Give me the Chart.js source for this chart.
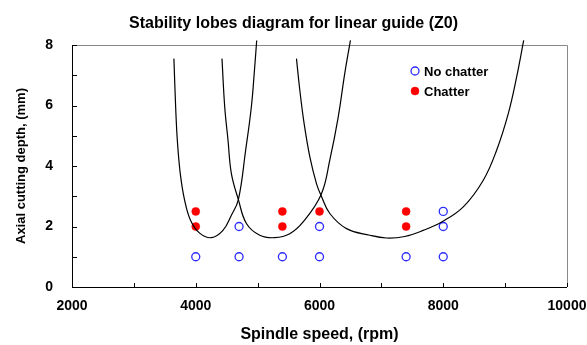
<!DOCTYPE html>
<html>
<head>
<meta charset="utf-8">
<script src="https://cdn.jsdelivr.net/npm/chart.js@4"></script>
<style>
  html, body { margin: 0; padding: 0; background: #fff; }
  #wrap { width: 587px; height: 345px; }
</style>
</head>
<body>
<div id="wrap"><canvas id="lobeChart"></canvas></div>
<script>
// lobes (rpm, mm)
const lobe1 = [
  {x: 3647, y: 7.55}, {x: 3675, y: 5.96}, {x: 3702, y: 4.86}, {x: 3750, y: 3.75},
  {x: 3820, y: 2.87}, {x: 3917, y: 2.2}, {x: 4063, y: 1.78}, {x: 4252, y: 1.63},
  {x: 4440, y: 1.87}, {x: 4576, y: 2.37}, {x: 4689, y: 2.89}, {x: 4807, y: 4.53},
  {x: 4899, y: 5.96}, {x: 4950, y: 7.2}, {x: 4985, y: 8.15}
];
const lobe2 = [
  {x: 4424, y: 7.55}, {x: 4468, y: 5.96}, {x: 4521, y: 4.86}, {x: 4576, y: 3.75},
  {x: 4689, y: 2.89}, {x: 4819, y: 2.1}, {x: 5034, y: 1.71}, {x: 5277, y: 1.63},
  {x: 5519, y: 1.76}, {x: 5735, y: 2.15}, {x: 6027, y: 3.06}, {x: 6167, y: 4.2},
  {x: 6301, y: 5.6}, {x: 6409, y: 7.07}, {x: 6500, y: 8.15}
];
const lobe3 = [
  {x: 5628, y: 7.55}, {x: 5681, y: 6.52}, {x: 5751, y: 5.41}, {x: 5843, y: 4.31},
  {x: 5951, y: 3.42}, {x: 6024, y: 3.03}, {x: 6167, y: 2.43}, {x: 6437, y: 1.93},
  {x: 6814, y: 1.71}, {x: 7084, y: 1.62}, {x: 7377, y: 1.67}, {x: 7677, y: 1.87},
  {x: 7974, y: 2.15}, {x: 8324, y: 2.65}, {x: 8647, y: 3.53}, {x: 8864, y: 4.53},
  {x: 9052, y: 5.74}, {x: 9188, y: 6.96}, {x: 9300, y: 8.15}
];

// cutting tests
const noChatterSpeed = [4000, 4700, 4700, 5400, 6000, 6000, 7400, 8000, 8000, 8000];
const noChatterDepth = [1, 1, 2, 1, 1, 2, 1, 1, 2, 2.5];
const chatterSpeed = [4000, 4000, 5400, 5400, 6000, 7400, 7400];
const chatterDepth = [2, 2.5, 2, 2.5, 2.5, 2, 2.5];

const xTicks = [2000, 4000, 6000, 8000, 10000];
const yTicks = [0, 2, 4, 6, 8];

const FONT = 'Arial, "Liberation Sans", sans-serif';
const toPts = (xs, ys) => xs.map((x, i) => ({x: x, y: ys[i]}));

const lobeStyle = {
  showLine: true,
  borderColor: '#000',
  borderWidth: 1.2,
  pointRadius: 0,
  tension: 0.4,
  clip: false
};

// inward tick marks + frame, like the original sheet
const frame = {
  id: 'frame',
  beforeDatasetsDraw(chart) {
    const {ctx, chartArea: a, scales: {x, y}} = chart;
    ctx.save();
    ctx.lineWidth = 1;
    ctx.strokeStyle = '#888';
    ctx.beginPath();
    ctx.moveTo(a.left, a.top + 0.5); ctx.lineTo(a.right + 0.5, a.top + 0.5);
    ctx.lineTo(a.right + 0.5, a.bottom);
    ctx.stroke();
    ctx.strokeStyle = '#000';
    ctx.beginPath();
    ctx.moveTo(a.left + 0.5, a.top); ctx.lineTo(a.left + 0.5, a.bottom + 0.5);
    ctx.lineTo(a.right, a.bottom + 0.5);
    for (let v = 2000; v <= 10000; v += 1000) {
      const px = Math.round(x.getPixelForValue(v)) + 0.5;
      ctx.moveTo(px, a.bottom); ctx.lineTo(px, a.bottom - 4);
    }
    for (let v = 0; v <= 8; v += 1) {
      const py = Math.round(y.getPixelForValue(v)) + 0.5;
      ctx.moveTo(a.left, py); ctx.lineTo(a.left + 5, py);
    }
    ctx.stroke();
    ctx.restore();
  },
  afterDraw(chart) {
    // legend inside the plot
    const {ctx} = chart;
    const items = [chart.data.datasets[3], chart.data.datasets[4]];
    ctx.save();
    ctx.font = 'bold 13px ' + FONT;
    ctx.textBaseline = 'middle';
    items.forEach((ds, i) => {
      const cx = 415, cy = 71 + i * 20;
      ctx.beginPath();
      ctx.arc(cx, cy, ds.pointRadius, 0, Math.PI * 2);
      ctx.fillStyle = ds.pointBackgroundColor;
      ctx.fill();
      ctx.lineWidth = ds.pointBorderWidth;
      ctx.strokeStyle = ds.pointBorderColor;
      ctx.stroke();
      ctx.fillStyle = '#000';
      ctx.fillText(ds.label, cx + 9, cy + 1);
    });
    ctx.restore();
  }
};

new Chart(document.getElementById('lobeChart'), {
  type: 'scatter',
  data: {
    datasets: [
      Object.assign({label: 'lobe 1', data: lobe1}, lobeStyle),
      Object.assign({label: 'lobe 2', data: lobe2}, lobeStyle),
      Object.assign({label: 'lobe 3', data: lobe3}, lobeStyle),
      {
        label: 'No chatter',
        data: toPts(noChatterSpeed, noChatterDepth),
        pointRadius: 4,
        pointBackgroundColor: '#fff',
        pointBorderColor: '#2b2bff',
        pointBorderWidth: 1.3
      },
      {
        label: 'Chatter',
        data: toPts(chatterSpeed, chatterDepth),
        pointRadius: 4,
        pointBackgroundColor: '#ff0000',
        pointBorderColor: '#ff0000',
        pointBorderWidth: 0.5
      }
    ]
  },
  options: {
    responsive: true,
    maintainAspectRatio: false,
    animation: false,
    layout: { padding: { left: 0, right: 0, top: 0, bottom: 0 } },
    plugins: {
      legend: { display: false },
      tooltip: { enabled: false },
      title: {
        display: true,
        text: 'Stability lobes diagram for linear guide (Z0)',
        color: '#000',
        font: { family: FONT, size: 16, weight: 'bold' },
        padding: { top: 14, bottom: 11.8 }
      }
    },
    scales: {
      x: {
        type: 'linear',
        min: 2000, max: 10000,
        afterFit: s => { s.height = 58; s.paddingRight = 20; s.paddingLeft = 0; },
        afterBuildTicks: s => { s.ticks = xTicks.map(v => ({value: v})); },
        grid: { display: false, drawTicks: false },
        border: { display: false },
        ticks: {
          color: '#000', padding: 11, maxRotation: 0,
          callback: v => String(v),
          font: { family: FONT, size: 14, weight: 'bold' }
        },
        title: {
          display: true,
          text: 'Spindle speed, (rpm)',
          color: '#000',
          font: { family: FONT, size: 16, weight: 'bold' },
          padding: { top: 1, bottom: 1 }
        }
      },
      y: {
        type: 'linear',
        min: 0, max: 8,
        afterFit: s => { s.width = 72; },
        afterBuildTicks: s => { s.ticks = yTicks.map(v => ({value: v})); },
        grid: { display: false, drawTicks: false },
        border: { display: false },
        ticks: {
          color: '#000', padding: 19,
          callback: v => String(v),
          font: { family: FONT, size: 14, weight: 'bold' }
        },
        title: {
          display: true,
          text: 'Axial cutting depth, (mm)',
          color: '#000',
          font: { family: FONT, size: 13, weight: 'bold' },
          padding: { top: 14, bottom: 14 }
        }
      }
    }
  },
  plugins: [frame]
});
</script>
</body>
</html>
